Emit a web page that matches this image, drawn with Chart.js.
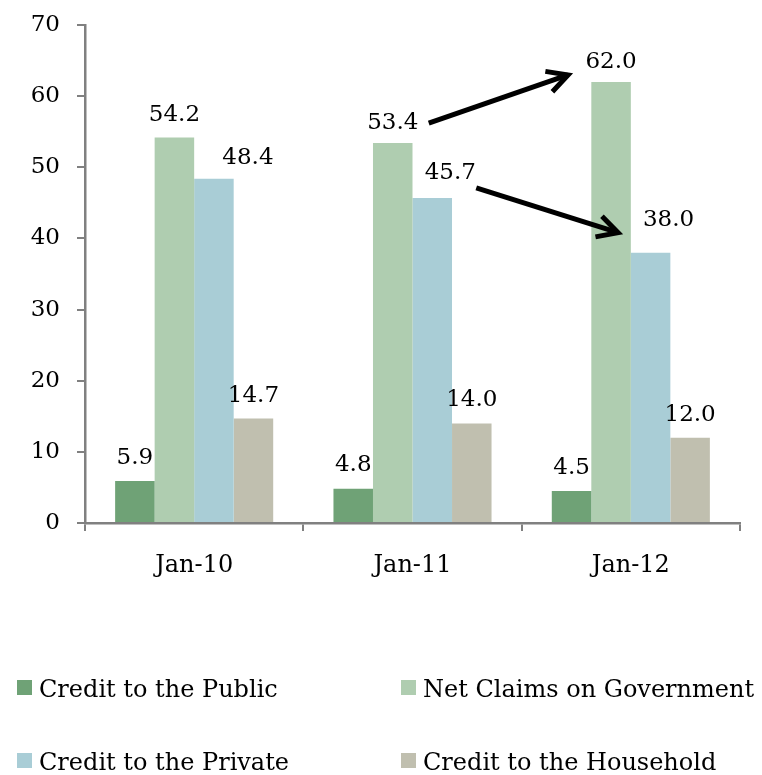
<!DOCTYPE html>
<html>
<head>
<meta charset="utf-8">
<script src="https://cdn.jsdelivr.net/npm/chart.js@4.4.0/dist/chart.umd.min.js"></script>
<style>
  html, body { margin: 0; padding: 0; background: #ffffff; }
  #wrap { width: 762px; height: 775px; position: relative; }
</style>
</head>
<body>
<div id="wrap"><canvas id="chart" width="762" height="775"></canvas></div>
<script>
// Bank credit composition, percent
const categories = ['Jan-10', 'Jan-11', 'Jan-12'];
const creditPublic = [5.9, 4.8, 4.5];
const netClaimsGov = [54.2, 53.4, 62.0];
const creditPrivate = [48.4, 45.7, 38.0];
const creditHousehold = [14.7, 14.0, 12.0];
const yTicks = [0, 10, 20, 30, 40, 50, 60, 70];
const seriesNames = ['Credit to the Public', 'Net Claims on Government', 'Credit to the Private', 'Credit to the Household'];
const seriesColors = ['#6fa276', '#afcdb0', '#a9cdd6', '#c0bfaf'];

const FONT = '"DejaVu Serif", serif';
const AXIS_GREY = '#808080';

// value label placement: horizontal nudge and height of label centre above bar top
const labelNudgeX = [[0, 0, 0], [0, 0, 0], [34, 18, 18], [0, 0, 0]];
const labelLift = [[26, 26, 25], [25, 23, 22], [23, 27, 35], [25, 26, 25]];

const valueLabels = {
  id: 'valueLabels',
  afterDatasetsDraw(chart) {
    const ctx = chart.ctx;
    ctx.save();
    ctx.font = '23px ' + FONT;
    ctx.fillStyle = '#000';
    ctx.textAlign = 'center';
    ctx.textBaseline = 'alphabetic';
    chart.data.datasets.forEach((ds, i) => {
      chart.getDatasetMeta(i).data.forEach((bar, j) => {
        const x = bar.x + labelNudgeX[i][j];
        const y = bar.y - labelLift[i][j] + 8.5;
        ctx.fillText(ds.data[j].toFixed(1), x, y);
      });
    });
    ctx.restore();
  }
};

function drawArrow(ctx, x1, y1, x2, y2) {
  const ang = Math.atan2(y2 - y1, x2 - x1);
  const head = 23, spread = 28 * Math.PI / 180;
  ctx.beginPath();
  ctx.moveTo(x1, y1);
  ctx.lineTo(x2, y2);
  ctx.stroke();
  ctx.beginPath();
  ctx.moveTo(x2 - head * Math.cos(ang - spread), y2 - head * Math.sin(ang - spread));
  ctx.lineTo(x2, y2);
  ctx.lineTo(x2 - head * Math.cos(ang + spread), y2 - head * Math.sin(ang + spread));
  ctx.stroke();
}

const changeArrows = {
  id: 'changeArrows',
  afterDatasetsDraw(chart) {
    const ctx = chart.ctx;
    const net = chart.getDatasetMeta(1).data;
    const priv = chart.getDatasetMeta(2).data;
    ctx.save();
    ctx.strokeStyle = '#000';
    ctx.lineWidth = 5;
    ctx.lineJoin = 'miter';
    ctx.lineCap = 'butt';
    drawArrow(ctx, net[1].x + 36, net[1].y - 20, net[2].x - 43, net[2].y - 7);
    drawArrow(ctx, priv[1].x + 44, priv[1].y - 10, net[2].x + 7, priv[2].y - 20);
    ctx.restore();
  }
};

// two-column legend under the plot
const gridLegend = {
  id: 'gridLegend',
  afterDraw(chart) {
    const ctx = chart.ctx;
    const cols = [17, 401];
    const rows = [680, 753];
    ctx.save();
    ctx.font = '24px ' + FONT;
    ctx.textAlign = 'left';
    ctx.textBaseline = 'alphabetic';
    chart.data.datasets.forEach((ds, i) => {
      const x = cols[i % 2];
      const y = rows[Math.floor(i / 2)];
      ctx.fillStyle = ds.backgroundColor;
      ctx.fillRect(x, y, 15, 15);
      ctx.fillStyle = '#000';
      ctx.fillText(ds.label, x + 22, y + 16.5);
    });
    ctx.restore();
  }
};

const seriesValues = [creditPublic, netClaimsGov, creditPrivate, creditHousehold];

new Chart(document.getElementById('chart'), {
  type: 'bar',
  data: {
    labels: categories,
    datasets: seriesValues.map((vals, i) => ({
      label: seriesNames[i],
      data: vals,
      backgroundColor: seriesColors[i],
      borderWidth: 0,
      barPercentage: 1.0,
      categoryPercentage: 0.724
    }))
  },
  options: {
    responsive: false,
    animation: false,
    devicePixelRatio: 1,
    layout: { autoPadding: false, padding: { top: 25, right: 22, bottom: 0, left: 0 } },
    plugins: {
      legend: { display: false },
      tooltip: { enabled: false }
    },
    scales: {
      x: {
        offset: true,
        grid: {
          display: true,
          drawOnChartArea: false,
          offset: true,
          tickLength: 8,
          color: AXIS_GREY,
          lineWidth: 2
        },
        border: { display: true, color: AXIS_GREY, width: 2.5 },
        ticks: {
          font: { family: FONT, size: 24 },
          color: '#000',
          padding: 20
        },
        afterFit(scale) {
          scale.height = 252;
          scale.paddingLeft = 0;
          scale.paddingRight = 0;
        }
      },
      y: {
        min: 0,
        max: 70,
        afterBuildTicks(scale) { scale.ticks = yTicks.map(v => ({ value: v })); },
        grid: {
          display: true,
          drawOnChartArea: false,
          tickLength: 8,
          color: AXIS_GREY,
          lineWidth: 2
        },
        border: { display: true, color: AXIS_GREY, width: 2.5 },
        ticks: {
          font: { family: FONT, size: 23 },
          color: '#000',
          padding: 17
        },
        afterFit(scale) {
          scale.width = 85;
          scale.paddingTop = 0;
          scale.paddingBottom = 0;
        }
      }
    }
  },
  plugins: [valueLabels, changeArrows, gridLegend]
});
</script>
</body>
</html>
